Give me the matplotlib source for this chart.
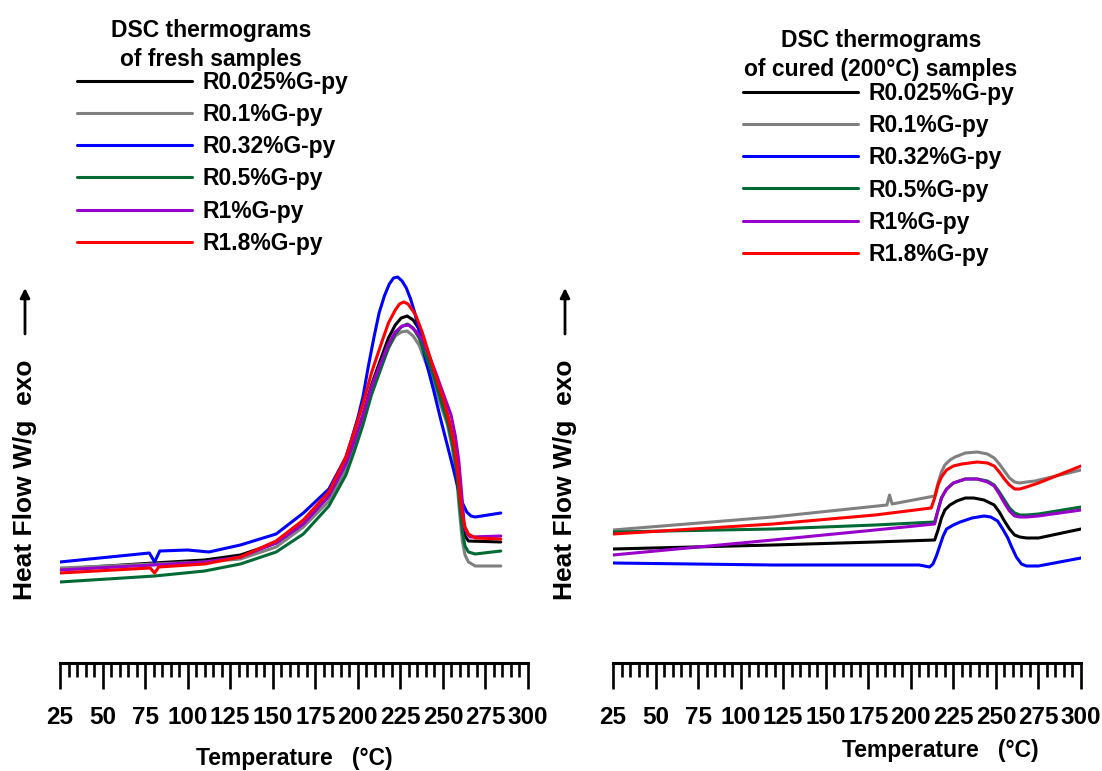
import matplotlib
matplotlib.use("Agg")
import matplotlib.pyplot as plt
from matplotlib.ticker import MultipleLocator

plt.rcParams['font.family'] = ['Liberation Sans', 'DejaVu Sans']
plt.rcParams['font.weight'] = 'bold'

# ---------------- data (heat flow, arbitrary offset units) ----------------
labels = ['R0.025%G-py', 'R0.1%G-py', 'R0.32%G-py', 'R0.5%G-py', 'R1%G-py', 'R1.8%G-py']
colors = ['#000000', '#808080', '#0000ff', '#006a35', '#9a00cc', '#ff0000']
xticks = [25, 50, 75, 100, 125, 150, 175, 200, 225, 250, 275, 300]

# fresh samples
fresh_T_black = [25, 80, 110, 131, 152, 168, 183, 193, 198, 203, 208, 213.5, 218, 222, 225.5, 229, 232.5,
                 236, 240, 244.5, 248.5, 252.7, 255.5, 257.9, 259.7, 261.4, 263, 265, 284]
fresh_black = [0.94, 1.00, 1.03, 1.08, 1.20, 1.39, 1.67, 1.99, 2.22, 2.48, 2.78, 3.04, 3.25, 3.38, 3.45, 3.47, 3.43,
               3.34, 3.16, 2.94, 2.71, 2.48, 2.27, 2.03, 1.70, 1.39, 1.27, 1.22, 1.21]

fresh_T_grey = [25, 80, 110, 131, 152, 168, 183, 193, 198, 203, 208, 213.5, 218, 222, 225.5, 229, 232.5,
                236, 240, 244.5, 248.5, 252.7, 255.5, 257.9, 259.7, 261.4, 263, 265, 269, 284]
fresh_grey = [0.95, 0.99, 1.01, 1.04, 1.16, 1.36, 1.62, 1.94, 2.16, 2.41, 2.71, 2.97, 3.15, 3.27, 3.31, 3.32, 3.27,
              3.18, 3.00, 2.80, 2.59, 2.38, 2.15, 1.88, 1.52, 1.22, 1.08, 1.01, 0.97, 0.97]

fresh_T_blue = [25, 77.5, 80.6, 83.6, 100, 112.5, 131, 152, 168, 183, 193, 196, 200, 203, 206, 209.4, 212.5,
                215.6, 218.5, 221, 223.4, 226, 228.5, 231, 233.5, 236, 240, 244.5, 248.5, 252.7, 256, 259,
                261.5, 264, 266.5, 269, 284]
fresh_blue = [1.01, 1.10, 1.01, 1.12, 1.13, 1.11, 1.18, 1.29, 1.50, 1.74, 2.06, 2.22, 2.45, 2.66, 2.95, 3.25, 3.50,
              3.67, 3.79, 3.85, 3.86, 3.82, 3.75, 3.64, 3.50, 3.32, 3.02, 2.73, 2.45, 2.17, 1.95, 1.74,
              1.60, 1.51, 1.47, 1.46, 1.50]

fresh_T_green = [25, 80.6, 110, 131, 152, 168, 183, 193, 198, 203, 208, 213.5, 218, 222, 225.5, 229, 232.5,
                 236, 240, 244.5, 248.5, 252.7, 255.5, 257.9, 259.7, 261.4, 263, 265, 269, 284]
fresh_green = [0.81, 0.87, 0.92, 0.99, 1.11, 1.29, 1.57, 1.88, 2.12, 2.38, 2.68, 2.94, 3.15, 3.29, 3.36, 3.39, 3.35,
               3.25, 3.07, 2.87, 2.64, 2.41, 2.20, 1.95, 1.62, 1.32, 1.17, 1.11, 1.09, 1.12]

fresh_T_purple = [25, 80, 110, 131, 152, 168, 183, 193, 198, 203, 208, 213.5, 218, 222, 226, 230, 234,
                  238.3, 242.5, 246.5, 250.5, 254.8, 257.3, 259.3, 261, 262.6, 264.3, 266.1, 284]
fresh_purple = [0.93, 0.98, 1.01, 1.06, 1.20, 1.39, 1.67, 1.99, 2.22, 2.48, 2.76, 3.00, 3.19, 3.31, 3.37, 3.38, 3.32,
                3.22, 3.05, 2.87, 2.68, 2.48, 2.27, 2.03, 1.70, 1.36, 1.29, 1.26, 1.27]

fresh_T_red = [25, 78, 80.6, 83, 110, 131, 152, 168, 183, 193, 198, 203, 208, 213.5, 218, 222, 224.5, 227,
               229.5, 232, 234, 238, 242, 246, 250.6, 254, 256.8, 258.5, 260, 261.5, 263, 265, 269, 284]
fresh_red = [0.90, 0.95, 0.90, 0.96, 0.99, 1.06, 1.22, 1.43, 1.71, 2.06, 2.32, 2.59, 2.90, 3.18, 3.40, 3.53, 3.59, 3.61,
             3.59, 3.53, 3.48, 3.30, 3.08, 2.86, 2.62, 2.40, 2.17, 1.95, 1.68, 1.48, 1.36, 1.29, 1.25, 1.24]

# cured (200 C) samples
cured_T_black = [25, 119, 179, 214, 216, 218, 220, 223, 227, 232, 237, 243, 249, 252, 255, 258, 261, 264, 268, 275, 300]
cured_black = [1.14, 1.18, 1.21, 1.23, 1.33, 1.45, 1.53, 1.58, 1.62, 1.65, 1.65, 1.63, 1.58, 1.51, 1.42, 1.34, 1.28,
               1.26, 1.25, 1.25, 1.34]

cured_T_grey = [25, 119, 186, 187.5, 189, 214, 216, 218, 220, 223, 226, 232, 239, 245, 249, 252, 255, 258, 261,
                264, 268, 273, 300]
cured_grey = [1.33, 1.46, 1.58, 1.68, 1.59, 1.67, 1.80, 1.91, 1.98, 2.03, 2.06, 2.10, 2.11, 2.09, 2.05, 1.99, 1.92,
              1.85, 1.81, 1.80, 1.81, 1.82, 1.93]

cured_T_blue = [25, 119, 205, 208, 211, 213, 215, 217, 219, 221, 225, 229, 236, 243, 247, 251, 254, 257, 259, 262,
                265, 268, 275, 300]
cured_blue = [1.00, 0.98, 0.98, 0.97, 0.96, 0.99, 1.07, 1.17, 1.27, 1.34, 1.38, 1.41, 1.45, 1.47, 1.46, 1.42, 1.34,
              1.25, 1.17, 1.06, 0.99, 0.97, 0.97, 1.05]

cured_T_green = [25, 119, 179, 214, 216, 218, 221, 225, 232, 239, 245, 249, 252, 255, 258, 261, 264, 268, 275, 300]
cured_green = [1.31, 1.34, 1.38, 1.41, 1.53, 1.65, 1.74, 1.80, 1.84, 1.84, 1.82, 1.78, 1.71, 1.63, 1.55, 1.50, 1.48,
               1.48, 1.49, 1.56]

cured_T_purple = [25, 119, 179, 214, 216, 218, 221, 225, 232, 239, 245, 249, 252, 255, 258, 261, 264, 268, 275, 300]
cured_purple = [1.08, 1.23, 1.33, 1.39, 1.53, 1.65, 1.74, 1.80, 1.84, 1.84, 1.81, 1.77, 1.69, 1.60, 1.52, 1.47, 1.46,
                1.46, 1.47, 1.53]

cured_T_red = [25, 119, 179, 212, 214, 216, 218, 221, 225, 230, 239, 245, 249, 252, 255, 258, 261, 264, 268, 275, 300]
cured_red = [1.29, 1.39, 1.48, 1.55, 1.65, 1.78, 1.86, 1.93, 1.97, 1.99, 2.01, 2.00, 1.97, 1.91, 1.84, 1.78, 1.74,
             1.74, 1.76, 1.80, 1.97]

fresh = [(fresh_T_black, fresh_black), (fresh_T_grey, fresh_grey), (fresh_T_blue, fresh_blue),
         (fresh_T_green, fresh_green), (fresh_T_purple, fresh_purple), (fresh_T_red, fresh_red)]
cured = [(cured_T_black, cured_black), (cured_T_grey, cured_grey), (cured_T_blue, cured_blue),
         (cured_T_green, cured_green), (cured_T_purple, cured_purple), (cured_T_red, cured_red)]

# ---------------- figure ----------------
W, H = 1102, 771
fig = plt.figure(figsize=(W / 100, H / 100), dpi=100)
fig.patch.set_facecolor('white')

def px(x0, y_bottom, w, h):
    return [x0 / W, 1 - y_bottom / H, w / W, h / H]

ax1 = fig.add_axes(px(60, 663, 468, 400))
ax2 = fig.add_axes(px(613, 663, 468, 400))

for ax, data in [(ax1, fresh), (ax2, cured)]:
    for (T, v), c, lab in zip(data, colors, labels):
        ax.plot(T, v, color=c, lw=2.2, label=lab, solid_capstyle='round', solid_joinstyle='round')
    ax.set_xlim(25, 300)
    ax.set_ylim(0, 4)
    ax.set_yticks([])
    for s in ['left', 'right', 'top']:
        ax.spines[s].set_visible(False)
    ax.spines['bottom'].set_linewidth(2.2)
    ax.set_xticks(xticks)
    ax.xaxis.set_minor_locator(MultipleLocator(5))
    ax.tick_params(axis='x', which='major', direction='out', length=19, width=1.9, pad=12,
                   labelsize=17.5)
    ax.tick_params(axis='x', which='minor', direction='out', length=10, width=1.9)
    for t in ax.get_xticklabels():
        t.set_fontweight('bold')
    ax.set_facecolor('none')

ax1.set_xlabel('Temperature   (°C)', fontsize=16.5, fontweight='bold')
ax1.xaxis.set_label_coords(0.5, -0.21)
ax2.set_xlabel('Temperature   (°C)', fontsize=16.5, fontweight='bold')
ax2.xaxis.set_label_coords(0.70, -0.19)

legfont = dict(family='Liberation Sans', weight='bold', size=16.5)
for ax, title, lx, ty, tx, tyc in [(ax1, 'DSC thermograms\nof fresh samples', 77, 71, 211, 45),
                                   (ax2, 'DSC thermograms\nof cured (200°C) samples', 743, 82, 881, 55)]:
    ax.legend(loc='upper left', bbox_to_anchor=(lx / W, 1 - ty / H),
              bbox_transform=fig.transFigure, frameon=False, prop=legfont,
              handlelength=5.0, handletextpad=0.48, labelspacing=0.4, borderpad=0, borderaxespad=0)
    fig.text(tx / W, 1 - tyc / H, title, ha='center', va='center', fontsize=16.5,
             fontweight='bold', linespacing=1.3)

# y labels with arrows
for xc in [25, 565]:
    fig.text(xc / W, 1 - 480 / H, 'Heat Flow W/g  exo', rotation=90, ha='center', va='center',
             fontsize=19, fontweight='bold')
    fig.add_artist(plt.Annotation('', xy=(xc / W, 1 - 288 / H), xytext=(xc / W, 1 - 334 / H),
                                  xycoords='figure fraction', textcoords='figure fraction',
                                  arrowprops=dict(arrowstyle='-|>', lw=2, color='black',
                                                  mutation_scale=14, shrinkA=0, shrinkB=0)))

fig.savefig('out.png', dpi=100, facecolor='white')
